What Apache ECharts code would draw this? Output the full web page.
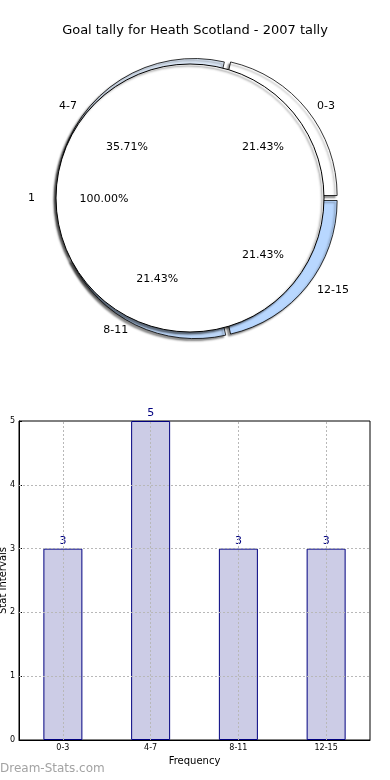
<!DOCTYPE html>
<html>
<head>
<meta charset="utf-8">
<script src="https://cdn.jsdelivr.net/npm/echarts@6/dist/echarts.min.js"></script>
<style>
html,body{margin:0;padding:0;background:#fff;}
#chart{width:390px;height:780px;}
</style>
</head>
<body>
<div id="chart"></div>
<script>
// ---- data ----
const chartTitle = 'Goal tally for Heath Scotland - 2007 tally';
const categories = ['0-3', '4-7', '8-11', '12-15'];
const tally = [3, 5, 3, 3];
const innerNames = ['1'];
const innerValues = [1];
const innerPercentText = ['100.00%'];
const yAxisName = 'Stat Intervals';
const xAxisName = 'Frequency';
const watermark = 'Dream-Stats.com';

// ---- styles ----
const FONT = 'DejaVu Sans';
const sliceColors = ['#ffffff', '#dce8f7', '#bcd6f7', '#b8d7ff'];

const pieData = categories.map((c, i) => ({
  name: c, value: tally[i], selected: true,
  itemStyle: { color: sliceColors[i] }
}));
const pieHelperData = categories.map((c, i) => ({
  name: c, value: tally[i], selected: true
}));

const chart = echarts.init(document.getElementById('chart'), null, { renderer: 'canvas' });

const option = {
  animation: false,
  backgroundColor: '#fff',
  textStyle: { fontFamily: FONT },
  title: {
    text: chartTitle, left: 'center', top: 19,
    textStyle: { fontFamily: FONT, fontSize: 13, fontWeight: 'normal', color: '#000' }
  },
  graphic: [{
    type: 'text', left: 0, top: 763,
    style: { text: watermark, fontFamily: FONT, fontSize: 12, fill: '#a3a3a3' }
  }],
  grid: {
    left: 19, top: 421, width: 351, height: 319,
    containLabel: false, outerBoundsMode: 'none',
    show: true, borderColor: '#000', borderWidth: 1, backgroundColor: 'transparent'
  },
  xAxis: {
    type: 'category', data: categories,
    name: xAxisName, nameLocation: 'middle', nameGap: 16, nameMoveOverlap: false,
    nameTextStyle: { fontFamily: FONT, fontSize: 10, color: '#000' },
    axisLine: { lineStyle: { color: '#000', width: 1 } },
    axisTick: { show: false },
    axisLabel: { fontFamily: FONT, fontSize: 8, color: '#000', margin: 4 },
    splitLine: { show: false }
  },
  yAxis: {
    type: 'value', min: 0, max: 5, interval: 1,
    name: yAxisName, nameLocation: 'middle', nameGap: 11, nameRotate: 90, nameMoveOverlap: false,
    nameTextStyle: { fontFamily: FONT, fontSize: 10, color: '#000' },
    axisLine: { show: true, lineStyle: { color: '#000', width: 1 } },
    axisTick: { show: true, inside: true, length: 3, lineStyle: { color: '#000' } },
    axisLabel: { fontFamily: FONT, fontSize: 8, color: '#000', margin: 4 },
    splitLine: { show: false }
  },
  series: [
    // exploded outer slices
    {
      type: 'pie', z: 1, center: [197, 198], radius: [0, 137],
      startAngle: 0, clockwise: false,
      selectedMode: 'multiple', selectedOffset: 4,
      avoidLabelOverlap: false, silent: true,
      data: pieData,
      itemStyle: {
        borderColor: '#000', borderWidth: 0.8,
        shadowColor: 'rgba(0,0,0,0.45)', shadowBlur: 2, shadowOffsetX: -2, shadowOffsetY: 2
      },
      label: {
        show: true, position: 'outside', formatter: '{b}',
        fontFamily: FONT, fontSize: 11, color: '#000'
      },
      labelLine: { show: false, length: 6, length2: 0 },
      emphasis: { disabled: true }
    },
    // covering inner pie "1"
    {
      type: 'pie', z: 2, center: [190, 198], radius: [0, 134],
      startAngle: 0, clockwise: false, silent: true,
      avoidLabelOverlap: false,
      data: innerNames.map((n, i) => ({ name: n, value: innerValues[i] })),
      itemStyle: {
        color: '#fff', borderColor: '#000', borderWidth: 1,
        shadowColor: 'rgba(0,0,0,0.5)', shadowBlur: 2, shadowOffsetX: -2, shadowOffsetY: 2
      },
      label: {
        show: true, position: 'outside', formatter: '{b}',
        fontFamily: FONT, fontSize: 11, color: '#000'
      },
      labelLine: { show: false, length: 16, length2: 0 },
      emphasis: { disabled: true }
    },
    // percentage labels for inner pie
    {
      type: 'pie', z: 3, center: [191, 199], radius: [0, 168],
      startAngle: 0, clockwise: false, silent: true,
      data: innerNames.map((n, i) => ({ name: n, value: innerValues[i] })),
      itemStyle: { color: 'rgba(0,0,0,0)', borderWidth: 0 },
      label: {
        show: true, position: 'inside',
        formatter: (p) => innerPercentText[p.dataIndex],
        fontFamily: FONT, fontSize: 11, color: '#000'
      },
      labelLine: { show: false },
      emphasis: { disabled: true }
    },
    // percentage labels for outer slices
    {
      type: 'pie', z: 3, center: [195, 201], radius: [0, 156],
      startAngle: 0, clockwise: false, silent: true,
      selectedMode: 'multiple', selectedOffset: 6,
      data: pieHelperData,
      itemStyle: { color: 'rgba(0,0,0,0)', borderWidth: 0 },
      label: {
        show: true, position: 'inside', formatter: '{d}%',
        fontFamily: FONT, fontSize: 11, color: '#000'
      },
      labelLine: { show: false },
      emphasis: { disabled: true }
    },
    // bars
    {
      type: 'bar', data: tally, barWidth: 39,
      itemStyle: { color: '#ccccE6', borderColor: '#000080', borderWidth: 1 },
      label: {
        show: true, position: 'top', distance: 2,
        fontFamily: FONT, fontSize: 11, color: '#000080'
      },
      markLine: {
        silent: true, symbol: 'none', label: { show: false },
        lineStyle: { color: '#b8b8b8', type: [2, 2], width: 1 },
        data: categories.map(c => ({ xAxis: c })).concat(
          [1, 2, 3, 4].map(v => ({ yAxis: v })))
      },
      emphasis: { disabled: true }
    }
  ]
};
chart.setOption(option);
</script>
</body>
</html>
